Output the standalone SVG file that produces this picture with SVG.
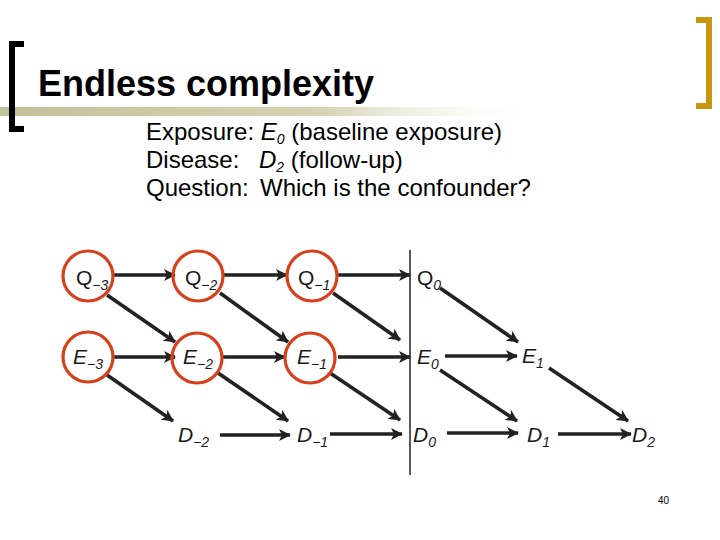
<svg xmlns="http://www.w3.org/2000/svg" width="720" height="540" viewBox="0 0 720 540">
<style>
.t{font-family:"Liberation Sans",Arial,sans-serif;fill:#000}
.lab{font-family:"Liberation Sans",Arial,sans-serif;font-size:21px;fill:#1a1a1a}
.sub{font-size:14px;font-style:italic}
.it{font-style:italic}
.circ{fill:none;stroke:#d8401c;stroke-width:3.2}
.arr{stroke:#222;stroke-width:3.6;fill:none;marker-end:url(#ah)}
</style>
<defs>
<linearGradient id="olive" x1="0" y1="0" x2="1" y2="0">
<stop offset="0" stop-color="#c2c29a"/>
<stop offset="0.45" stop-color="#d4d4b4"/>
<stop offset="0.75" stop-color="#ffffff" stop-opacity="0"/>
</linearGradient>
<marker id="ah" markerUnits="userSpaceOnUse" markerWidth="13" markerHeight="12" refX="11" refY="6" orient="auto">
<path d="M0,0 L12,6 L0,12 L3,6 z" fill="#222"/>
</marker>
</defs>
<rect width="720" height="540" fill="#fff"/>
<g id="header">
<rect x="0" y="107" width="720" height="9" fill="url(#olive)"/>
<path d="M24,44 H12 V129 H24" fill="none" stroke="#000" stroke-width="6"/>
<path d="M696,20 H709 V106 H696" fill="none" stroke="#c8960f" stroke-width="6"/>
<text class="t" x="38" y="96" font-size="36" font-weight="bold">Endless complexity</text>
<text class="t" x="146" y="140" font-size="24">Exposure: <tspan class="it">E</tspan><tspan class="it" font-size="14" dy="4">0</tspan><tspan dy="-4"> (baseline exposure)</tspan></text>
<text class="t" x="146" y="168" font-size="24">Disease:</text>
<text class="t" x="259" y="168" font-size="24"><tspan class="it">D</tspan><tspan class="it" font-size="14" dy="4">2</tspan><tspan dy="-4"> (follow-up)</tspan></text>
<text class="t" x="146" y="196" font-size="24">Question:</text>
<text class="t" x="260" y="196" font-size="24">Which is the confounder?</text>
</g>
<g id="divider"><line x1="410" y1="250" x2="410" y2="475" stroke="#222" stroke-width="1.5"/></g>
<g id="connectors">
<line class="arr" x1="113" y1="275" x2="175" y2="275"/>
<line class="arr" x1="223" y1="275" x2="287" y2="275"/>
<line class="arr" x1="338" y1="275" x2="410" y2="275"/>
<line class="arr" x1="113" y1="357" x2="175" y2="357"/>
<line class="arr" x1="223" y1="357" x2="285" y2="357"/>
<line class="arr" x1="338" y1="357" x2="410" y2="357"/>
<line class="arr" x1="445" y1="356" x2="517" y2="356"/>
<line class="arr" x1="107" y1="295" x2="175" y2="342"/>
<line class="arr" x1="220" y1="293" x2="288" y2="342"/>
<line class="arr" x1="333" y1="293" x2="400" y2="340"/>
<line class="arr" x1="440" y1="288" x2="518" y2="342"/>
<line class="arr" x1="107" y1="375" x2="173" y2="421"/>
<line class="arr" x1="218" y1="373" x2="288" y2="421"/>
<line class="arr" x1="330" y1="373" x2="400" y2="420"/>
<line class="arr" x1="440" y1="370" x2="517" y2="421"/>
<line class="arr" x1="549" y1="368" x2="628" y2="421"/>
<line class="arr" x1="220" y1="435" x2="290" y2="435"/>
<line class="arr" x1="330" y1="434" x2="402" y2="434"/>
<line class="arr" x1="447" y1="433" x2="518" y2="433"/>
<line class="arr" x1="558" y1="434" x2="631" y2="434"/>
</g>
<g id="Qm3"><circle class="circ" cx="88" cy="276" r="25"/><text class="lab" x="76" y="285">Q<tspan class="sub" dy="5">−3</tspan></text></g>
<g id="Qm2"><circle class="circ" cx="198" cy="276" r="25"/><text class="lab" x="185" y="285">Q<tspan class="sub" dy="5">−2</tspan></text></g>
<g id="Qm1"><circle class="circ" cx="312" cy="276" r="25"/><text class="lab" x="298" y="285">Q<tspan class="sub" dy="5">−1</tspan></text></g>
<g id="Q0"><text class="lab" x="417" y="285">Q<tspan class="sub" dy="5">0</tspan></text></g>
<g id="Em3"><circle class="circ" cx="88" cy="357" r="25"/><text class="lab it" x="73" y="364">E<tspan class="sub" dy="5">−3</tspan></text></g>
<g id="Em2"><circle class="circ" cx="197" cy="358" r="25"/><text class="lab it" x="183" y="364">E<tspan class="sub" dy="5">−2</tspan></text></g>
<g id="Em1"><circle class="circ" cx="310" cy="358" r="25"/><text class="lab it" x="297" y="364">E<tspan class="sub" dy="5">−1</tspan></text></g>
<g id="E0"><text class="lab it" x="417" y="364">E<tspan class="sub" dy="5">0</tspan></text></g>
<g id="E1"><text class="lab it" x="522" y="363">E<tspan class="sub" dy="5">1</tspan></text></g>
<g id="Dm2"><text class="lab it" x="178" y="442">D<tspan class="sub" dy="5">−2</tspan></text></g>
<g id="Dm1"><text class="lab it" x="297" y="442">D<tspan class="sub" dy="5">−1</tspan></text></g>
<g id="D0"><text class="lab it" x="413" y="442">D<tspan class="sub" dy="5">0</tspan></text></g>
<g id="D1"><text class="lab it" x="527" y="442">D<tspan class="sub" dy="5">1</tspan></text></g>
<g id="D2"><text class="lab it" x="632" y="442">D<tspan class="sub" dy="5">2</tspan></text></g>
<text class="t" x="658" y="504" font-size="10">40</text>
</svg>
